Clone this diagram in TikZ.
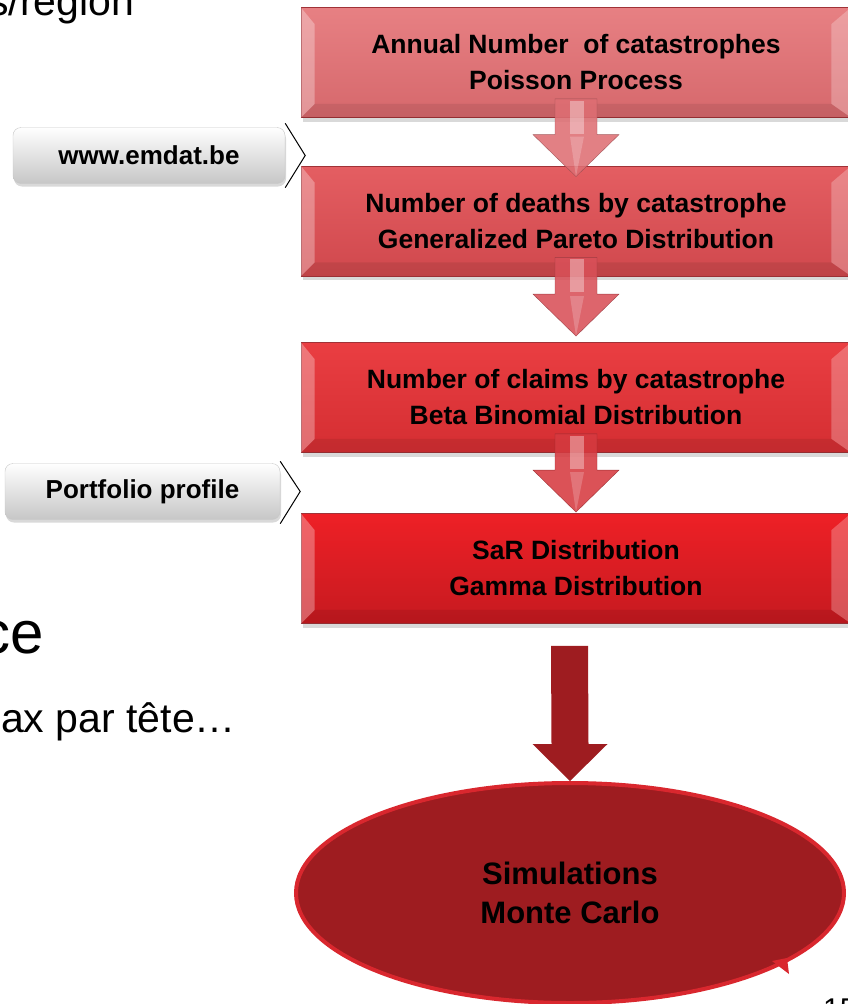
\documentclass[tikz,border=0pt]{standalone}
\usepackage{fontspec}
\setmainfont{Liberation Sans}
\usetikzlibrary{shapes, calc, shadows}

\definecolor{catAtop}{RGB}{231,128,131}
\definecolor{catAbot}{RGB}{214,104,108}
\definecolor{catBtop}{RGB}{228,94,98}
\definecolor{catBbot}{RGB}{208,72,77}
\definecolor{catCtop}{RGB}{234,62,66}
\definecolor{catCbot}{RGB}{212,46,50}
\definecolor{catDtop}{RGB}{238,32,38}
\definecolor{catDbot}{RGB}{198,26,32}
\definecolor{boxedge}{RGB}{160,50,55}
\definecolor{catAarrow}{RGB}{222,110,115}
\definecolor{catBarrow}{RGB}{216,80,88}
\definecolor{catCarrow}{RGB}{214,58,64}
\definecolor{simred}{RGB}{158,28,32}
\definecolor{simedge}{RGB}{217,39,46}

\tikzset{
  stepbox/.style={rectangle, minimum width=550, minimum height=110, draw=boxedge,
    line width=0.8pt, align=center, font=\fontsize{26.5}{36}\selectfont\bfseries,
    drop shadow={shadow xshift=2pt, shadow yshift=-4pt, opacity=.3}},
  sourcebox/.style={rectangle, rounded corners=8pt, minimum height=56, draw=black!22,
    top color=white, bottom color=black!22, font=\fontsize{26}{26}\selectfont\bfseries,
    drop shadow={shadow xshift=1pt, shadow yshift=-3pt, opacity=.3}},
  slidetext/.style={inner sep=0, anchor=base west, font=\fontsize{41}{41}\selectfont},
}

% bevel on the sides of a box
\newcommand\boxbevel[1]{%
  \fill[white, opacity=.3] (#1.north west) -- ++(14,17) -- ($(#1.south west)+(14,-14)$) -- (#1.south west) -- cycle;
  \fill[white, opacity=.25] (#1.north east) -- ++(-20,17) -- ($(#1.south east)+(-20,-14)$) -- (#1.south east) -- cycle;
  \fill[black, opacity=.08] (#1.south west) -- ++(14,-14) -- ($(#1.south east)+(-20,-14)$) -- (#1.south east) -- cycle;
}

% small arrow from box #1 to box #2, tip shifted by #3, colour #4
\newcommand\flowarrow[4]{%
  \coordinate (top) at ($(#1.south)+(0,-19)$);
  \coordinate (tip) at ($(#2.north)+(0,#3)$);
  \fill[#4, opacity=.88, draw=#4!70!black] (top) ++(-21,0) -- ++(42,0) -- ($(tip)+(21,-42)$) -- ++(22,0)
    -- (tip) -- ++(-43,-42) -- ++(22,0) -- cycle;
  \fill[white, opacity=.35] ($(top)+(-6,2)$) rectangle ($(top)+(8,35)$);
  \fill[white, opacity=.2] ($(tip)+(-6,-40)$) -- ($(tip)+(8,-40)$) -- (tip) -- cycle;
}

\begin{document}
\begin{tikzpicture}[x=1pt, y=-1pt]
  \useasboundingbox (0,0) rectangle (848,1004);
  \clip (0,0) rectangle (848,1004);

  % slide text
  \node[slidetext] (region) at (-12,15) {s/region};
  \node[slidetext, font=\fontsize{60}{60}\selectfont] (ce) at (-20,653) {ce};
  \node[slidetext] (tete) at (1,732) {ax par tête…};
  \node[slidetext, font=\fontsize{30}{30}\selectfont] (page) at (823,1019) {15};

  % Draw boxes
  \node[stepbox, top color=catAtop, bottom color=catAbot] (annual) at (576,62.5)
    {Annual Number\ \ of catastrophes\\Poisson Process};
  \node[stepbox, top color=catBtop, bottom color=catBbot] (deaths) at (576,221)
    {Number of deaths by catastrophe\\Generalized Pareto Distribution};
  \node[stepbox, top color=catCtop, bottom color=catCbot] (claims) at (576,397.5)
    {Number of claims by catastrophe\\Beta Binomial Distribution};
  \node[stepbox, top color=catDtop, bottom color=catDbot] (sar) at (576,568.5)
    {SaR Distribution\\Gamma Distribution};
  \foreach \b in {annual,deaths,claims,sar} {\boxbevel{\b}}

  % Draw arrows
  \flowarrow{annual}{deaths}{11}{catAarrow}
  \flowarrow{deaths}{claims}{-6}{catBarrow}
  \flowarrow{claims}{sar}{-1}{catCarrow}

  % sources
  \node[sourcebox, minimum width=272] (emdat) at (149,155.5) {www.emdat.be};
  \node[sourcebox, minimum width=275] (profile) at (142.5,491.5) {Portfolio profile};
  \draw[line width=1pt] ($(emdat.north east)+(0,-4)$) -- ($(emdat.east)+(20,0)$) -- ($(emdat.south east)+(0,4)$);
  \draw[line width=1pt] ($(profile.north east)+(0,-2)$) -- ($(profile.east)+(20,0)$) -- ($(profile.south east)+(0,4)$);

  % simulations
  \node[ellipse, minimum width=548, minimum height=220, fill=simred, draw=simedge, line width=4pt,
    align=center, font=\fontsize{31}{39}\selectfont\bfseries] (sim) at (570,893) {Simulations\\Monte Carlo};
  \fill[simedge] (772,961) -- (789,974) -- (787,958) -- cycle;
  \fill[simred] ($(sar.south)+(-25,22)$) -- ++(37,0) -- ($(sim.north)+(18.5,-37)$) -- ++(19,0)
    -- (sim.north) -- ++(-37.5,-37) -- ++(19,0) -- cycle;

\end{tikzpicture}
\end{document}
